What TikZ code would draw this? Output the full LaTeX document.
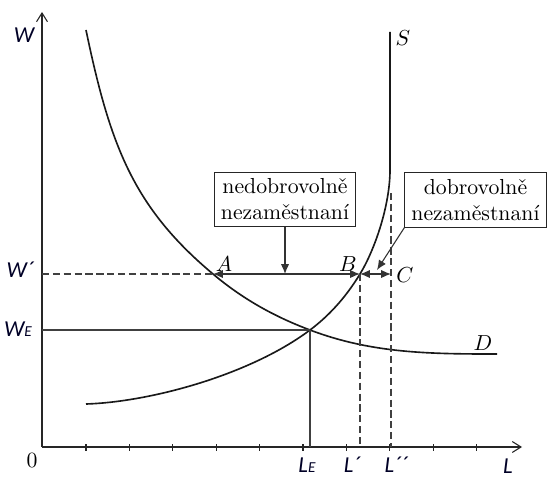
\documentclass[tikz,border=0pt]{standalone}
\usepackage{fontspec}
\newfontfamily\calfont{Carlito}
\usetikzlibrary{arrows.meta, positioning, calc}
\tikzset{
  axis_style/.style={-{Straight Barb[length=4pt,width=5pt]}, black!85, line width=0.5pt},
  curve_style/.style={black!90, line width=0.75pt},
  guide/.style={black!75, line width=0.55pt},
  boundary/.style={black!75, line width=0.55pt, dash pattern=on 3.3pt off 1.7pt},
  tick_style/.style={black!85, line width=0.5pt},
  axis_label/.style={font=\calfont\itshape\fontsize{10.5}{12}\selectfont, text=black!85!blue, inner sep=0pt},
  point_label/.style={inner sep=0pt},
  note_box/.style={rectangle, draw=black!85, line width=0.5pt, align=center, minimum width=65pt, minimum height=25pt, inner sep=2pt},
  arrow/.style={-{Latex[length=4.5pt,width=3.8pt]}, black!80, line width=0.5pt},
  double_arrow/.style={{Latex[length=4.5pt,width=3.8pt]}-{Latex[length=4.5pt,width=3.8pt]}, black!80, line width=0.55pt}
}
\newcommand{\subE}{{\fontsize{7}{8}\selectfont E}}

\begin{document}
\begin{tikzpicture}[x=0.46pt, y=-0.46pt]
  \useasboundingbox (0,0) rectangle (547,478);

  % Axes
  \coordinate (O) at (42,447);
  \coordinate (ytop) at (42,12);
  \coordinate (xend) at (522,447);
  \draw [axis_style] (O) -- (ytop);
  \draw [axis_style] (O) -- (xend);
  \foreach \k in {0,...,9} {
    \draw [tick_style] ({86+43.4*\k},444) -- ({86+43.4*\k},451);
  }

  % Key points
  \coordinate (A) at (213,274);
  \coordinate (B) at (360,274);
  \coordinate (C) at (391,274);
  \coordinate (E) at (310,330);

  % Demand D
  \draw [curve_style] (86,30) .. controls (110,145) and (133,207) .. (A)
    .. controls (245,301) and (278,318) .. (E)
    .. controls (372,353.5) and (430,354) .. (497,354);
  % Supply S
  \draw [curve_style] (86,404) .. controls (150,402) and (250,375) .. (E)
    .. controls (328,316.5) and (345,298.6) .. (B)
    .. controls (375,249.4) and (390,205) .. (390,170) -- (390,32);

  % Guide lines
  \draw [boundary] (O |- A) -- (A);
  \draw [guide] (O |- E) -- (E);
  \draw [guide] (E) -- (E |- O);
  \draw [boundary] (B) -- (B |- O);
  \draw [boundary] (391,193) -- (C |- O);

  % Unemployment arrows
  \draw [double_arrow] (A) -- (B);
  \draw [double_arrow] (B) -- (C);

  % Boxes
  \node (invol) [note_box] at (285,199.5) {nedobrovolně\\nezaměstnaní};
  \node (vol) [note_box] at (475.5,200) {dobrovolně\\nezaměstnaní};
  \coordinate (vol_tip) at (377,270);
  \draw [arrow] (invol.south) -- (invol.south |- A);
  \draw [arrow] (vol.south west) -- (vol_tip);

  % Labels
  \node (lA) [point_label] at (224,264) {$A$};
  \node (lB) [point_label] at (348,264) {$B$};
  \node (lC) [point_label] at (405,275) {$C$};
  \node (lS) [point_label] at (403,38) {$S$};
  \node (lD) [point_label] at (483,343) {$D$};
  \node (l0) [point_label] at (32,460) {0};

  \node (lW) [axis_label] at (24,35.5) {W};
  \node (lW1) [axis_label] at (20,270) {W´};
  \node (lWE) [axis_label] at (18,329) {W\subE};
  \node (lLE) [axis_label] at (307,465) {L\subE};
  \node (lL1) [axis_label] at (352,465) {L´};
  \node (lL2) [axis_label] at (396,465) {L´´};
  \node (lL) [axis_label] at (508,466) {L};
\end{tikzpicture}
\end{document}
